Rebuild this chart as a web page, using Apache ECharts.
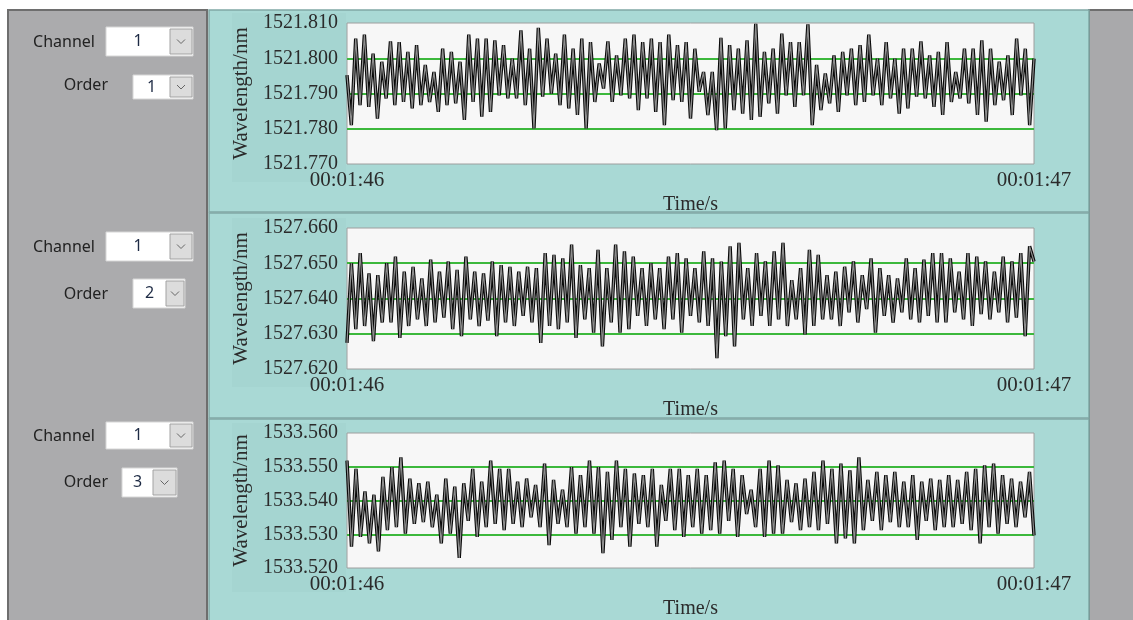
<!DOCTYPE html>
<html>
<head>
<meta charset="utf-8">
<title>Wavelength monitor</title>
<script src="https://cdn.jsdelivr.net/npm/echarts@6/dist/echarts.min.js"></script>
<style>
  html, body { margin: 0; padding: 0; background: #fff; }
  #main { width: 1133px; height: 620px; }
</style>
</head>
<body>
<div id="main"></div>
<script>
// x axis shows only the start / end time of the 1 s window
const timeLabels = ['00:01:46', '00:01:47']

// y ranges of the three graphs (nm)
const yRanges = [
  [1521.77, 1521.81],
  [1527.62, 1527.66],
  [1533.52, 1533.56],
]

// selector values on the left
const channelValues = [1, 1, 1]
const orderValues = [1, 2, 3]

// Channel 1, order 1 wavelength (nm)
const wave1 = [
  1521.7952, 1521.7810, 1521.8056, 1521.7867, 1521.8067, 1521.7862, 1521.8013, 1521.7829, 1521.7990, 1521.7886,
  1521.8048, 1521.7867, 1521.8046, 1521.7876, 1521.8018, 1521.7858, 1521.8037, 1521.7867, 1521.7981, 1521.7876,
  1521.7961, 1521.7848, 1521.8027, 1521.7867, 1521.8018, 1521.7872, 1521.7990, 1521.7825, 1521.8067, 1521.7876,
  1521.8056, 1521.7834, 1521.8056, 1521.7848, 1521.8051, 1521.7895, 1521.8037, 1521.7886, 1521.7999, 1521.7886,
  1521.8079, 1521.7867, 1521.8027, 1521.7801, 1521.8086, 1521.7891, 1521.8056, 1521.7900, 1521.8013, 1521.7867,
  1521.8067, 1521.7858, 1521.8027, 1521.7839, 1521.8056, 1521.7801, 1521.8046, 1521.7876, 1521.7985, 1521.7914,
  1521.8048, 1521.7876, 1521.8008, 1521.7895, 1521.8056, 1521.7886, 1521.8067, 1521.7853, 1521.8046, 1521.7886,
  1521.8056, 1521.7848, 1521.8046, 1521.7810, 1521.8067, 1521.7881, 1521.8037, 1521.7876, 1521.8046, 1521.7829,
  1521.8027, 1521.7905,
  1521.7961, 1521.7839, 1521.7961, 1521.7796, 1521.8058, 1521.7801, 1521.8037, 1521.7853, 1521.8027, 1521.7843,
  1521.8051, 1521.7825, 1521.8098, 1521.7834, 1521.8018, 1521.7872, 1521.8027, 1521.7843, 1521.8070, 1521.7895,
  1521.8046, 1521.7862, 1521.8046, 1521.7895, 1521.8096, 1521.7810, 1521.7981, 1521.7853, 1521.7957, 1521.7872,
  1521.8008, 1521.7848, 1521.8018, 1521.7895, 1521.8027, 1521.7867, 1521.8037, 1521.7876, 1521.8067, 1521.7895,
  1521.7999, 1521.7867, 1521.8046, 1521.7886, 1521.7999, 1521.7843, 1521.8027, 1521.7858, 1521.8027, 1521.7891,
  1521.8048, 1521.7886, 1521.8008, 1521.7862, 1521.8018, 1521.7839, 1521.8046, 1521.7876, 1521.7961, 1521.7886,
  1521.8027, 1521.7872, 1521.8027, 1521.7839, 1521.8051, 1521.7820, 1521.8027, 1521.7867, 1521.7990, 1521.7881,
  1521.8008, 1521.7839, 1521.8056, 1521.7895, 1521.8027, 1521.7810, 1521.7999,
]

// Channel 1, order 2
const wave2 = [
  1527.6274, 1527.6500, 1527.6313, 1527.6529, 1527.6322, 1527.6471, 1527.6279, 1527.6466, 1527.6332, 1527.6500,
  1527.6332, 1527.6519, 1527.6288, 1527.6476, 1527.6322, 1527.6490, 1527.6341, 1527.6457, 1527.6322, 1527.6510,
  1527.6332, 1527.6476, 1527.6346, 1527.6505, 1527.6313, 1527.6481, 1527.6293, 1527.6519, 1527.6341, 1527.6476,
  1527.6322, 1527.6471, 1527.6337, 1527.6505, 1527.6293, 1527.6495, 1527.6332, 1527.6490, 1527.6322, 1527.6476,
  1527.6351, 1527.6490, 1527.6332, 1527.6486, 1527.6274, 1527.6529, 1527.6322, 1527.6524, 1527.6313, 1527.6514,
  1527.6332, 1527.6553, 1527.6288, 1527.6495, 1527.6341, 1527.6486, 1527.6303, 1527.6538, 1527.6264, 1527.6486,
  1527.6332, 1527.6553, 1527.6303, 1527.6534, 1527.6313, 1527.6519, 1527.6351, 1527.6486, 1527.6322, 1527.6500,
  1527.6341, 1527.6486, 1527.6313, 1527.6519, 1527.6341, 1527.6529, 1527.6303, 1527.6514, 1527.6351, 1527.6486,
  1527.6332, 1527.6534, 1527.6322, 1527.6514, 1527.6231, 1527.6505, 1527.6293, 1527.6548, 1527.6264, 1527.6558,
  1527.6341, 1527.6486, 1527.6322, 1527.6529, 1527.6351, 1527.6505, 1527.6322, 1527.6534, 1527.6341, 1527.6558,
  1527.6322, 1527.6452, 1527.6341, 1527.6486, 1527.6298, 1527.6538, 1527.6322, 1527.6524, 1527.6341, 1527.6466,
  1527.6341, 1527.6476, 1527.6322, 1527.6490, 1527.6361, 1527.6505, 1527.6332, 1527.6466, 1527.6370, 1527.6514,
  1527.6303, 1527.6486, 1527.6351, 1527.6466, 1527.6332, 1527.6457, 1527.6361, 1527.6514, 1527.6341, 1527.6486,
  1527.6332, 1527.6510, 1527.6351, 1527.6529, 1527.6332, 1527.6529, 1527.6332, 1527.6514, 1527.6361, 1527.6476,
  1527.6341, 1527.6529, 1527.6322, 1527.6519, 1527.6356, 1527.6505, 1527.6341, 1527.6476, 1527.6361, 1527.6519,
  1527.6332, 1527.6505, 1527.6346, 1527.6529, 1527.6293, 1527.6548, 1527.6505,
]

// Channel 1, order 3
const wave3 = [
  1533.5518, 1533.5263, 1533.5494, 1533.5292, 1533.5427, 1533.5273, 1533.5417, 1533.5249, 1533.5470, 1533.5312,
  1533.5499, 1533.5321, 1533.5528, 1533.5302, 1533.5465, 1533.5331, 1533.5451, 1533.5336, 1533.5456, 1533.5321,
  1533.5417, 1533.5273, 1533.5465, 1533.5302, 1533.5441, 1533.5230, 1533.5451, 1533.5340, 1533.5494, 1533.5292,
  1533.5456, 1533.5321, 1533.5518, 1533.5331, 1533.5494, 1533.5312, 1533.5494, 1533.5331, 1533.5456, 1533.5321,
  1533.5465, 1533.5350, 1533.5446, 1533.5321, 1533.5509, 1533.5268, 1533.5461, 1533.5331, 1533.5432, 1533.5321,
  1533.5499, 1533.5302, 1533.5475, 1533.5321, 1533.5518, 1533.5302, 1533.5499, 1533.5244, 1533.5485, 1533.5283,
  1533.5518, 1533.5321, 1533.5494, 1533.5263, 1533.5480, 1533.5331, 1533.5475, 1533.5321, 1533.5494, 1533.5263,
  1533.5446, 1533.5340, 1533.5494, 1533.5312, 1533.5494, 1533.5292, 1533.5475, 1533.5321, 1533.5494, 1533.5302,
  1533.5475, 1533.5312, 1533.5513, 1533.5302, 1533.5518, 1533.5340, 1533.5494, 1533.5292, 1533.5475, 1533.5360,
  1533.5432, 1533.5321, 1533.5494, 1533.5292, 1533.5518, 1533.5302, 1533.5504, 1533.5302, 1533.5461, 1533.5336,
  1533.5451, 1533.5312, 1533.5465, 1533.5321, 1533.5485, 1533.5312, 1533.5518, 1533.5331, 1533.5494, 1533.5273,
  1533.5509, 1533.5288, 1533.5489, 1533.5273, 1533.5528, 1533.5312, 1533.5461, 1533.5340, 1533.5485, 1533.5312,
  1533.5475, 1533.5336, 1533.5485, 1533.5321, 1533.5456, 1533.5321, 1533.5475, 1533.5283, 1533.5456, 1533.5340,
  1533.5465, 1533.5312, 1533.5461, 1533.5321, 1533.5475, 1533.5321, 1533.5461, 1533.5331, 1533.5485, 1533.5312,
  1533.5494, 1533.5273, 1533.5504, 1533.5321, 1533.5509, 1533.5302, 1533.5475, 1533.5331, 1533.5465, 1533.5321,
  1533.5456, 1533.5350, 1533.5485, 1533.5297,
]

const waves = [wave1, wave2, wave3]

// layout (px)
const plotLeft = 347
const plotWidth = 687
const plotHeight = 141
const plotTops = [23, 228, 433]
const panelTops = [10, 213, 419]
const panelHeights = [202, 205, 205]

const serif = '"Liberation Serif", "Times New Roman", serif'
const sans = '"Noto Sans", "Open Sans", sans-serif'
const textColor = '#2b2b2b'
const green = '#3cb83c'

// combo box like the LabVIEW ring control
function combo(x, y, w, h, btnW, value) {
  const bx = w - btnW - 1
  const cx = bx + btnW / 2
  const cy = h / 2
  return {
    type: 'group',
    x: x,
    y: y,
    z: -5,
    children: [
      {
        type: 'rect',
        shape: { x: 0, y: 0, width: w, height: h },
        style: { fill: '#fff', stroke: '#d6d6d6', lineWidth: 1 },
      },
      {
        type: 'rect',
        shape: { x: bx, y: 2, width: btnW, height: h - 4 },
        style: { fill: '#dcdcdc', stroke: '#a2a2a2', lineWidth: 1 },
      },
      {
        type: 'polyline',
        shape: { points: [[cx - 4, cy - 2], [cx, cy + 2], [cx + 4, cy - 2]] },
        style: { stroke: '#666', fill: null, lineWidth: 1 },
      },
      {
        type: 'text',
        x: bx / 2,
        y: cy,
        style: {
          text: String(value),
          align: 'center',
          verticalAlign: 'middle',
          font: '16px ' + sans,
          fill: '#1d2a44',
        },
      },
    ],
  }
}

function label(text, right, cy) {
  return {
    type: 'text',
    x: right,
    y: cy,
    z: -5,
    style: {
      text: text,
      align: 'right',
      verticalAlign: 'middle',
      font: '16px ' + sans,
      fill: '#222',
    },
  }
}

// control positions per panel
const controls = [
  { chY: 42, chBox: [106, 27, 87, 29], orY: 85, orBox: [133, 75, 60, 24, 22] },
  { chY: 247, chBox: [106, 232, 87, 29], orY: 294, orBox: [133, 279, 52, 29, 18] },
  { chY: 436, chBox: [106, 422, 87, 27], orY: 482, orBox: [122, 468, 55, 29, 23] },
]

const graphics = [
  // left gray panel
  {
    type: 'rect', z: -10,
    shape: { x: 8, y: 10, width: 199, height: 620 },
    style: { fill: '#ababad', stroke: '#6e6e6e', lineWidth: 2 },
  },
  // right gray strip
  {
    type: 'rect', z: -10,
    shape: { x: 1089, y: 10, width: 50, height: 620 },
    style: { fill: '#a9a9ab', stroke: '#6e6e6e', lineWidth: 2 },
  },
]

panelTops.forEach((t, i) => {
  graphics.push({
    type: 'rect', z: -10,
    shape: { x: 209, y: t, width: 880, height: panelHeights[i] },
    style: { fill: '#a9d9d5', stroke: '#80a8a5', lineWidth: 1.5 },
  })
  graphics.push({
    type: 'rect', z: -9,
    shape: { x: 232, y: plotTops[i] - 10, width: 114, height: plotHeight + 28 },
    style: { fill: '#a5d5d1' },
  })
})

controls.forEach((c, i) => {
  graphics.push(label('Channel', 95, c.chY))
  graphics.push(combo(c.chBox[0], c.chBox[1], c.chBox[2], c.chBox[3], 22, channelValues[i]))
  graphics.push(label('Order', 108, c.orY))
  graphics.push(combo(c.orBox[0], c.orBox[1], c.orBox[2], c.orBox[3], c.orBox[4], orderValues[i]))
})

const chart = echarts.init(document.getElementById('main'))

const option = {
  animation: false,
  graphic: graphics,
  grid: plotTops.map((t) => ({
    left: plotLeft,
    top: t,
    width: plotWidth,
    height: plotHeight,
    show: true,
    backgroundColor: '#f7f7f7',
    borderColor: '#9e9e9e',
    borderWidth: 1,
  })),
  xAxis: waves.map((w, i) => ({
    type: 'value',
    gridIndex: i,
    min: 0,
    max: w.length - 1,
    interval: w.length - 1,
    axisLine: { show: false },
    axisTick: { show: false },
    splitLine: { show: false },
    axisLabel: {
      formatter: (v) => (v === 0 ? timeLabels[0] : timeLabels[1]),
      fontFamily: serif,
      fontSize: 21,
      color: textColor,
      margin: 6,
      showMinLabel: true,
      showMaxLabel: true,
    },
    name: 'Time/s',
    nameLocation: 'middle',
    nameGap: 31,
    nameTextStyle: { fontFamily: serif, fontSize: 20, color: textColor },
  })),
  yAxis: yRanges.map((r, i) => ({
    type: 'value',
    gridIndex: i,
    min: r[0],
    max: r[1],
    interval: 0.01,
    axisLine: { show: false },
    axisTick: { show: false },
    splitLine: {
      show: true,
      showMinLine: false,
      showMaxLine: false,
      lineStyle: { color: green, width: 2 },
    },
    axisLabel: {
      formatter: (v) => v.toFixed(3),
      fontFamily: serif,
      fontSize: 20,
      color: textColor,
      margin: 9,
    },
    name: 'Wavelength/nm',
    nameLocation: 'middle',
    nameGap: 94,
    nameTextStyle: { fontFamily: serif, fontSize: 21, color: textColor },
  })),
  series: [],
}

waves.forEach((w, i) => {
  const data = w.map((v, k) => [k, v])
  // dark outline
  option.series.push({
    type: 'line',
    xAxisIndex: i,
    yAxisIndex: i,
    data: data,
    symbol: 'none',
    silent: true,
    z: 3,
    lineStyle: { color: '#0a0a0a', width: 3.4 },
  })
  // gray core
  option.series.push({
    type: 'line',
    xAxisIndex: i,
    yAxisIndex: i,
    data: data,
    symbol: 'none',
    silent: true,
    z: 4,
    lineStyle: { color: '#8e8e8e', width: 1.2 },
  })
})

chart.setOption(option)
</script>
</body>
</html>
